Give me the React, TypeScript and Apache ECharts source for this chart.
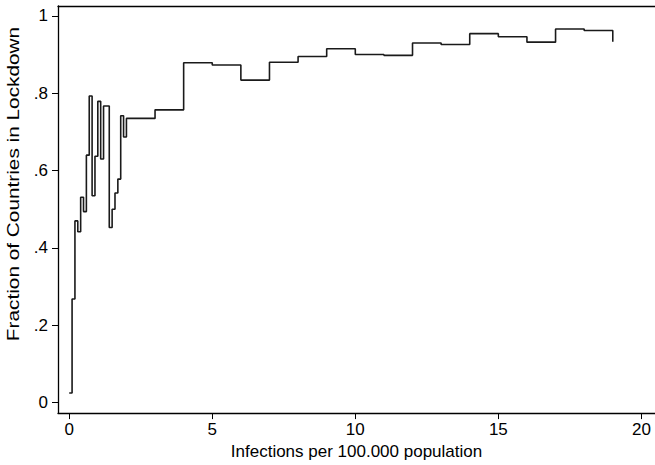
import React, { useEffect, useRef } from "react";
import * as echarts from "echarts";

// Infections per 100,000 population (step start points)
const infections: number[] = [
  0, 0.1, 0.2, 0.3, 0.4, 0.5, 0.6, 0.7, 0.8, 0.9, 1.0, 1.1, 1.2, 1.4, 1.5, 1.6, 1.7, 1.8, 1.9, 2.0,
  3, 4, 5, 6, 7, 8, 9, 10, 11, 12, 13, 14, 15, 16, 17, 18, 19,
];
// Fraction of countries in lockdown at each step
const fractionLockdown: number[] = [
  0.025, 0.268, 0.47, 0.442, 0.531, 0.494, 0.64, 0.793, 0.535, 0.637, 0.779, 0.63, 0.767, 0.453,
  0.5, 0.542, 0.578, 0.742, 0.687, 0.735,
  0.757, 0.879, 0.873, 0.834, 0.88, 0.895, 0.915, 0.9, 0.898, 0.93, 0.926, 0.954, 0.946, 0.932,
  0.966, 0.962, 0.933,
];
const xTicks: number[] = [0, 5, 10, 15, 20];
const yTicks: number[] = [0, 0.2, 0.4, 0.6, 0.8, 1];
const xTitle = "Infections per 100.000 population";
const yTitle = "Fraction of Countries in Lockdown";

export default function App() {
  const ref = useRef<HTMLDivElement>(null);
  useEffect(() => {
    document.body.style.margin = "0";
    if (!ref.current) return;
    const chart = echarts.init(ref.current, undefined, { renderer: "svg" });
    const font = "'Liberation Sans', Arial, Helvetica, sans-serif";
    const frameLine = { show: true, lineStyle: { color: "#000", width: 1.3 } };
    chart.setOption({
      animation: false,
      backgroundColor: "#ffffff",
      grid: {
        left: 58,
        top: 6,
        width: 601,
        height: 413,
        show: false,
      },
      xAxis: [
        {
          type: "value",
          position: "bottom",
          min: -0.392,
          max: 20.476,
          axisLine: { ...frameLine, onZero: false },
          splitLine: { show: false },
          axisTick: {
            show: true,
            customValues: xTicks,
            length: 6,
            lineStyle: { color: "#000", width: 1 },
          },
          axisLabel: {
            customValues: xTicks,
            fontFamily: font,
            fontSize: 17,
            color: "#000",
            margin: 8,
          },
          name: xTitle,
          nameLocation: "middle",
          nameGap: 28,
          nameTextStyle: { fontFamily: font, fontSize: 17, color: "#000" },
        },
        {
          type: "value",
          position: "top",
          min: -0.392,
          max: 20.476,
          axisLine: { ...frameLine, onZero: false },
          splitLine: { show: false },
          axisTick: { show: false },
          axisLabel: { show: false },
        },
      ],
      yAxis: {
        type: "value",
        min: -0.0268,
        max: 1.0255,
        axisLine: { ...frameLine, onZero: false },
        splitLine: { show: false },
        axisTick: {
          show: true,
          customValues: yTicks,
          length: 6,
          lineStyle: { color: "#000", width: 1 },
        },
        axisLabel: {
          customValues: yTicks,
          fontFamily: font,
          fontSize: 17,
          color: "#000",
          margin: 10,
          formatter: (v: number) => {
            if (Math.abs(v) < 1e-9) return "0";
            if (Math.abs(v - 1) < 1e-9) return "1";
            return "." + Math.round(v * 10);
          },
        },
      },
      graphic: [
        {
          type: "text",
          x: 13,
          y: 184,
          rotation: Math.PI / 2,
          scaleX: 1.3,
          scaleY: 1,
          style: {
            text: yTitle,
            fontFamily: font,
            fontSize: 16,
            fill: "#000",
            align: "center",
            verticalAlign: "middle",
          },
        },
      ],
      series: [
        {
          type: "line",
          step: "end",
          symbol: "none",
          xAxisIndex: 0,
          data: infections.map((x, i) => [x, fractionLockdown[i]]),
          lineStyle: { color: "#1a1a1a", width: 1.6 },
        },
      ],
    });
    return () => chart.dispose();
  }, []);
  return <div ref={ref} style={{ width: 655, height: 465 }} />;
}
